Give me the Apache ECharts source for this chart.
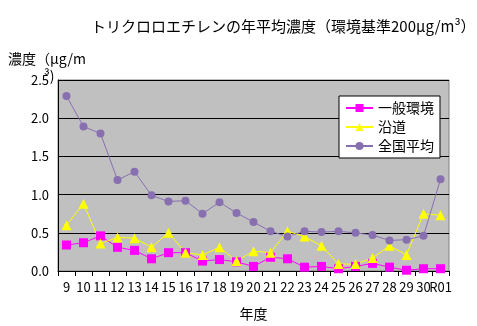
<!DOCTYPE html>
<html><head><meta charset="utf-8">
<script src="https://cdn.jsdelivr.net/npm/echarts@6/dist/echarts.min.js"></script>
<style>html,body{margin:0;padding:0;background:#fff}#c{width:477px;height:326px}</style>
</head><body><div id="c"></div>
<script>
const categories = ['9','10','11','12','13','14','15','16','17','18','19','20','21','22','23','24','25','26','27','28','29','30','R01'];
const ippan = [0.34,0.37,0.46,0.31,0.27,0.16,0.24,0.24,0.13,0.15,0.12,0.06,0.18,0.16,0.05,0.06,0.03,0.06,0.10,0.05,0.01,0.03,0.03];
const endo = [0.60,0.88,0.36,0.44,0.43,0.31,0.50,0.24,0.21,0.31,0.13,0.26,0.24,0.52,0.45,0.33,0.09,0.09,0.17,0.33,0.21,0.75,0.73];
const zenkoku = [2.29,1.89,1.80,1.19,1.30,0.99,0.91,0.92,0.75,0.90,0.76,0.64,0.52,0.45,0.52,0.51,0.52,0.50,0.47,0.40,0.41,0.46,1.20];
const names = ['一般環境','沿道','全国平均'];
const FONT = '"Noto Sans CJK JP", sans-serif';
const chart = echarts.init(document.getElementById('c'), null, {renderer:'canvas'});
chart.setOption({
  animation:false,
  textStyle:{fontFamily:FONT},
  title:{text:'トリクロロエチレンの年平均濃度（環境基準200μg/m³）', left:86, top:14,
    textStyle:{fontSize:15, fontWeight:'normal', color:'#000', fontFamily:FONT}},
  graphic:[
    {type:'text', left:8, top:52, style:{text:'濃度（μg/m', font:'14px '+FONT, fill:'#000'}},
    {type:'text', left:44, top:69, z:100, style:{text:'³)', font:'14px '+FONT, fill:'#000'}}
  ],
  grid:{left:58, top:80, right:28, bottom:52, show:true, backgroundColor:'#C0C0C0', borderColor:'#808080', borderWidth:1},
  legend:{orient:'vertical', left:339, top:96, width:99, backgroundColor:'#fff', borderColor:'#000', borderWidth:1,
    padding:[5,6,5,6], itemGap:5, itemWidth:27, itemHeight:10,
    textStyle:{fontSize:14, color:'#000', fontFamily:FONT}, data:names},
  xAxis:{type:'category', data:categories, boundaryGap:true, name:'年度', nameLocation:'middle', nameGap:36,
    nameTextStyle:{fontSize:14, color:'#000', fontFamily:FONT},
    axisLine:{lineStyle:{color:'#000', width:1}},
    axisTick:{show:true, alignWithLabel:false, length:5, lineStyle:{color:'#000'}},
    axisLabel:{interval:0, fontSize:13, color:'#000', margin:10, fontFamily:FONT}},
  yAxis:{type:'value', min:0, max:2.5, interval:0.5,
    axisLine:{show:true, lineStyle:{color:'#000'}},
    axisTick:{show:false},
    splitLine:{show:true, lineStyle:{color:'#000', width:1}},
    axisLabel:{fontSize:13, color:'#000', margin:9, fontFamily:FONT, formatter:v=>v.toFixed(1)}},
  series:[
    {name:names[0], type:'line', data:ippan, symbol:'rect', symbolSize:9, itemStyle:{color:'#FF00FF'}, lineStyle:{color:'#FF00FF', width:1}},
    {name:names[1], type:'line', data:endo, symbol:'triangle', symbolSize:10, itemStyle:{color:'#FFFF00'}, lineStyle:{color:'#FFFF00', width:1}},
    {name:names[2], type:'line', data:zenkoku, symbol:'circle', symbolSize:8, itemStyle:{color:'#8870B0'}, lineStyle:{color:'#8870B0', width:1}}
  ]
});
</script></body></html>
